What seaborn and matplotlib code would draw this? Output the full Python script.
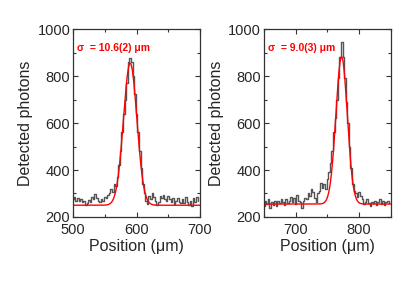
import numpy as np
import pandas as pd
import seaborn as sns
import matplotlib
matplotlib.use("Agg")
import matplotlib.pyplot as plt
from matplotlib.ticker import MultipleLocator

# left scan, 2.5 um bins from 500 um
left_start = 500.0
bin_width = 2.5
left_counts = [275, 285, 270, 280, 268, 278, 262, 270, 250, 258,
               272, 265, 285, 275, 298, 280, 270, 262, 278, 268,
               285, 280, 295, 300, 318, 305, 340, 330, 370, 420,
               480, 560, 640, 700, 770, 860, 875, 860, 800, 725,
               640, 560, 480, 410, 340, 300, 270, 255, 290, 275,
               300, 285, 270, 250, 262, 290, 280, 295, 275, 268,
               290, 275, 262, 280, 255, 270, 282, 265, 258, 275,
               260, 285, 262, 252, 270, 248, 280, 265, 285, 270]

# right scan, 2.5 um bins from 650 um
right_start = 650.0
right_counts = [245, 270, 255, 275, 240, 262, 250, 270, 245, 268,
                258, 275, 262, 250, 278, 260, 270, 285, 265, 280,
                255, 292, 270, 262, 240, 268, 280, 275, 300, 290,
                318, 305, 280, 265, 300, 310, 345, 325, 340, 320,
                360, 390, 430, 480, 560, 620, 700, 790, 880, 945,
                880, 790, 690, 600, 500, 410, 340, 310, 300, 285,
                305, 290, 275, 255, 262, 278, 258, 245, 265, 258,
                270, 252, 262, 275, 255, 268, 250, 262, 270, 258]

# gaussian fit parameters: baseline, amplitude, centre, sigma
left_fit = (250, 605, 590.0, 10.6)
right_fit = (255, 627, 772.3, 9.0)

left_label = "σ  = 10.6(2) μm"
right_label = "σ  = 9.0(3) μm"

sns.set_style("ticks")
plt.rcParams["font.family"] = ["Liberation Sans", "DejaVu Sans"]


def make_frame(start, counts):
    x = start + bin_width * np.arange(len(counts))
    return pd.DataFrame({"pos": x, "counts": counts})


def gauss(x, p):
    b, a, c, s = p
    return b + a * np.exp(-(x - c) ** 2 / (2 * s ** 2))


fig = plt.figure(figsize=(4.15, 2.94), dpi=100)
ax1 = fig.add_axes([0.176, 0.262, 0.306, 0.639])
ax2 = fig.add_axes([0.636, 0.262, 0.306, 0.639])

panels = [
    (ax1, left_start, left_counts, left_fit, left_label, (500, 700), (500, 600, 700)),
    (ax2, right_start, right_counts, right_fit, right_label, (650, 850), (700, 800)),
]

for ax, start, counts, fit, label, xlim, xt in panels:
    df = make_frame(start, counts)
    sns.lineplot(data=df, x="pos", y="counts", ax=ax, color="#555555",
                 lw=1.0, drawstyle="steps-mid")
    xf = np.linspace(xlim[0], xlim[1], 400)
    sns.lineplot(x=xf, y=gauss(xf, fit), ax=ax, color="red", lw=1.0)
    ax.set_xlim(*xlim)
    ax.set_ylim(200, 1000)
    ax.set_xticks(xt)
    ax.xaxis.set_minor_locator(MultipleLocator(50))
    ax.set_yticks([200, 400, 600, 800, 1000])
    ax.yaxis.set_minor_locator(MultipleLocator(100))
    ax.tick_params(which="both", direction="in", top=True, right=True,
                   labelsize=10.5, color="#333333", width=0.8)
    ax.tick_params(which="major", length=3.5)
    ax.tick_params(axis="x", which="major", pad=4)
    ax.tick_params(axis="y", which="major", pad=2)
    ax.tick_params(which="minor", length=2)
    for sp in ax.spines.values():
        sp.set_color("#333333")
        sp.set_linewidth(0.9)
    ax.set_xlabel("Position (μm)", fontsize=11.5, labelpad=2)
    ax.set_ylabel("Detected photons", fontsize=11.5, labelpad=3)
    ax.text(0.03, 0.9, label, transform=ax.transAxes, color="red",
            fontsize=7.5, fontweight="bold", va="center")

fig.savefig("out.png", dpi=100)
